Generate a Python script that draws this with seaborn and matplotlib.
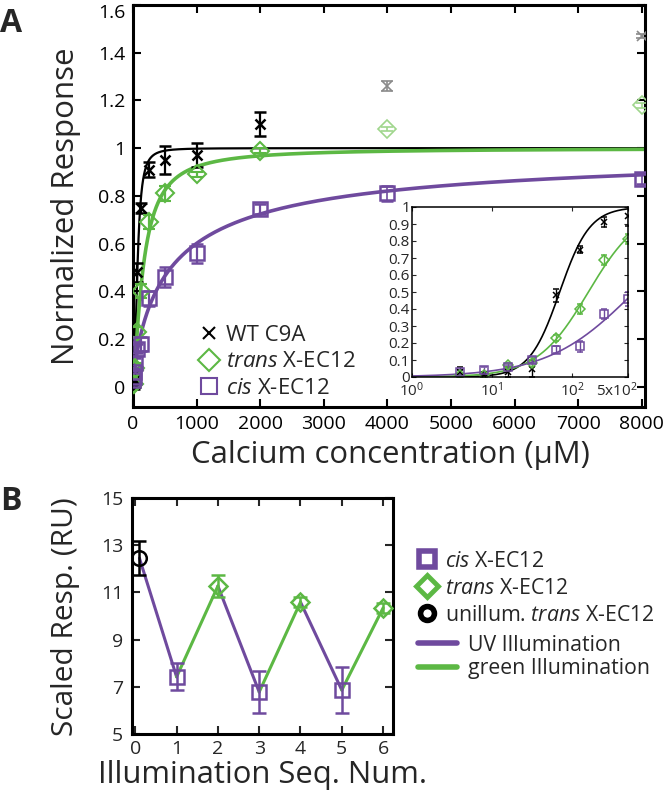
import numpy as np
import pandas as pd
import matplotlib

matplotlib.use("Agg")
import matplotlib.pyplot as plt
import matplotlib.transforms as mtransforms
import seaborn as sns
from matplotlib.lines import Line2D

PURPLE = "#6f4a9e"
GREEN = "#5cb844"
LIGHT_GREEN = "#9fd68c"
GRAY = "#8a8a8a"

# titration (µM) and normalized responses
conc = [4, 8, 16, 31.25, 62.5, 125, 250, 500, 1000, 2000, 4000, 8000]
wt_resp = [0.03, 0.01, 0.03, 0.05, 0.48, 0.75, 0.91, 0.95, 0.97, 1.10, 1.26, 1.47]
wt_err = [0.03, 0.02, 0.03, 0.05, 0.04, 0.02, 0.03, 0.06, 0.05, 0.05, 0.02, 0.01]
trans_resp = [0.01, 0.01, 0.07, 0.08, 0.23, 0.40, 0.69, 0.81, 0.89, 0.99, 1.08, 1.18]
trans_err = [0.01, 0.01, 0.01, 0.02, 0.02, 0.03, 0.03, 0.03, 0.01, 0.01, 0.01, 0.01]
cis_resp = [0.03, 0.04, 0.06, 0.10, 0.16, 0.18, 0.37, 0.46, 0.56, 0.745, 0.81, 0.87]
cis_err = [0.01, 0.02, 0.01, 0.02, 0.02, 0.03, 0.03, 0.04, 0.04, 0.02, 0.03, 0.02]
n_fit_points = 10  # last two WT / trans points are left out of the fits
n_inset = 8

# Hill-fit parameters
fit_names = ["wt", "trans", "cis"]
fit_max = [1.0, 1.0, 1.0]
fit_kd = [70, 160, 600]
fit_n = [2.3, 1.35, 0.8]

# panel B
seq_num = [0.1, 1, 2, 3, 4, 5, 6]
seq_resp = [12.45, 7.42, 11.27, 6.78, 10.59, 6.86, 10.34]
seq_err = [0.72, 0.57, 0.45, 0.87, 0.2, 0.97, 0.2]
seq_state = ["unillum", "cis", "trans", "cis", "trans", "cis", "trans"]

sns.set_theme(style="ticks")
plt.rcParams["font.family"] = ["Open Sans", "DejaVu Sans"]
plt.rcParams["mathtext.fontset"] = "custom"
plt.rcParams["mathtext.rm"] = "Open Sans"
plt.rcParams["mathtext.it"] = "Open Sans:italic"

fig = plt.figure(figsize=(6.66, 7.94), dpi=100)
ax = fig.add_axes([133 / 666, 1 - 407 / 794, 512 / 666, 402 / 794])
axi = fig.add_axes([412 / 666, 1 - 377 / 794, 216 / 666, 170 / 794])
axb = fig.add_axes([132 / 666, 1 - 734 / 794, 261 / 666, 236 / 794])

# fit curves
xs = np.concatenate([[0.0], np.geomspace(0.5, 8050, 800)])
rows = []
for name, m, kd, n in zip(fit_names, fit_max, fit_kd, fit_n):
    y = m * xs**n / (kd**n + xs**n)
    rows.append(pd.DataFrame({"conc": xs, "resp": y, "fit": name}))
fits = pd.concat(rows)
pal = {"wt": "black", "trans": GREEN, "cis": PURPLE}

sns.lineplot(data=fits, x="conc", y="resp", hue="fit", palette=pal, size="fit",
             sizes={"wt": 1.6, "trans": 2.6, "cis": 2.6}, estimator=None,
             sort=False, legend=False, ax=ax, zorder=2)
inset_fits = fits[fits["conc"] <= 500]
sns.lineplot(data=inset_fits, x="conc", y="resp", hue="fit", palette=pal,
             estimator=None, sort=False, legend=False, ax=axi, linewidth=1.2)

series = [
    (wt_resp, wt_err, "x", "black", GRAY, 7, 1.8),
    (trans_resp, trans_err, "D", GREEN, LIGHT_GREEN, 9, 1.5),
    (cis_resp, cis_err, "s", PURPLE, PURPLE, 9.5, 1.8),
]
for resp, err, mk, col, lcol, ms, mew in series:
    k = n_fit_points
    ax.errorbar(conc[:k], resp[:k], yerr=err[:k], fmt=mk, ms=ms, mew=mew, mfc="none",
                mec=col, ecolor=col, elinewidth=1.6, capsize=4, capthick=1.6, zorder=3)
    ax.errorbar(conc[k:], resp[k:], yerr=err[k:], fmt=mk, ms=ms, mew=1.2 if col != PURPLE else mew,
                mfc="none", mec=lcol, ecolor=lcol, elinewidth=1.2, capsize=4, capthick=1.2, zorder=3)
    axi.errorbar(conc[:n_inset], resp[:n_inset], yerr=err[:n_inset], fmt=mk, ms=ms * 0.55,
                 mew=1.1, mfc="none", mec=col, ecolor=col, elinewidth=1.0, capsize=2, capthick=1.0)

ax.set_xlim(0, 8050)
ax.set_ylim(-0.085, 1.6)
ax.set_xticks(range(0, 8001, 1000))
ax.set_yticks([0, 0.2, 0.4, 0.6, 0.8, 1.0, 1.2, 1.4, 1.6])
ax.set_yticklabels(["0", "0.2", "0.4", "0.6", "0.8", "1", "1.2", "1.4", "1.6"])
ax.set_xlabel("")
ax.set_ylabel("")
ax.tick_params(direction="in", length=6, width=1.5, labelsize=14, pad=5.5,
               top=True, right=True, colors="black")
# the top label sits a little below its tick in the original
down = mtransforms.ScaledTranslation(0, -0.06, fig.dpi_scale_trans)
top_lab = ax.get_yticklabels()[-1]
top_lab.set_transform(top_lab.get_transform() + down)
for s in ax.spines.values():
    s.set_linewidth(2.2)
    s.set_color("black")

axi.set_xscale("log")
axi.set_xlim(1, 500)
axi.set_ylim(0, 1)
axi.set_xticks([1, 10, 100, 500])
axi.set_xticklabels(["10$^{0}$", "10$^{1}$", "10$^{2}$", "5x10$^{2}$"])
axi.minorticks_off()
axi.set_yticks(np.arange(0, 1.01, 0.1))
axi.set_yticklabels(["0", "0.1", "0.2", "0.3", "0.4", "0.5", "0.6", "0.7", "0.8", "0.9", "1"])
axi.set_xlabel("")
axi.set_ylabel("")
axi.tick_params(direction="in", length=3, width=0.8, labelsize=11, pad=1.5,
                top=True, right=True)
axi.tick_params(axis="x", pad=3.5)
shift = mtransforms.ScaledTranslation(-0.11, 0, fig.dpi_scale_trans)
last = axi.get_xticklabels()[-1]
last.set_transform(last.get_transform() + shift)
for s in axi.spines.values():
    s.set_linewidth(1.1)
    s.set_color("black")

leg_a = [
    Line2D([], [], ls="none", marker="x", ms=9, mew=1.5, color="black"),
    Line2D([], [], ls="none", marker="D", ms=11, mew=1.5, mfc="none", mec=GREEN),
    Line2D([], [], ls="none", marker="s", ms=11, mew=1.5, mfc="none", mec=PURPLE),
]
fig.legend(leg_a, ["WT C9A", "$\\mathit{trans}$ X-EC12", "$\\mathit{cis}$ X-EC12"],
           loc="upper left", bbox_to_anchor=(189 / 666, 1 - 314 / 794), frameon=False,
           fontsize=16, handlelength=0.8, handletextpad=0.35, labelspacing=0.24, borderpad=0)

# panel B
seg_rows = []
for i in range(len(seq_num) - 1):
    light = "UV" if seq_state[i + 1] == "cis" else "green"
    seg_rows.append({"seg": i, "x": seq_num[i], "y": seq_resp[i], "light": light})
    seg_rows.append({"seg": i, "x": seq_num[i + 1], "y": seq_resp[i + 1], "light": light})
segs = pd.DataFrame(seg_rows)
sns.lineplot(data=segs, x="x", y="y", hue="light", units="seg", estimator=None, sort=False,
             palette={"UV": PURPLE, "green": GREEN}, linewidth=2.2, legend=False, ax=axb, zorder=2)

style = {"cis": ("s", PURPLE, 10), "trans": ("D", GREEN, 9.5), "unillum": ("o", "black", 10.5)}
for x, y, e, st in zip(seq_num, seq_resp, seq_err, seq_state):
    mk, col, ms = style[st]
    axb.errorbar([x], [y], yerr=[e], fmt=mk, ms=ms, mew=1.8, mfc="none", mec=col,
                 ecolor=col, elinewidth=1.8, capsize=5, capthick=1.8, zorder=3)

axb.set_xlim(-0.08, 6.24)
axb.set_ylim(5, 15)
axb.set_xticks(range(0, 7))
axb.set_yticks([5, 7, 9, 11, 13, 15])
axb.set_xlabel("")
axb.set_ylabel("")
axb.tick_params(direction="in", length=6, width=1.5, labelsize=14, pad=6.5,
                top=True, right=True)
axb.tick_params(axis="x", pad=4.5)
for s in axb.spines.values():
    s.set_linewidth(2.2)
    s.set_color("black")

leg_b_marks = [
    Line2D([], [], ls="none", marker="s", ms=11, mew=4, mfc="white", mec=PURPLE),
    Line2D([], [], ls="none", marker="D", ms=11, mew=3.5, mfc="white", mec=GREEN),
    Line2D([], [], ls="none", marker="o", ms=10, mew=4, mfc="white", mec="black"),
]
fig.legend(leg_b_marks, ["$\\mathit{cis}$ X-EC12", "$\\mathit{trans}$ X-EC12",
                         "unillum. $\\mathit{trans}$ X-EC12"],
           loc="upper left", bbox_to_anchor=(407 / 666, 1 - 540 / 794), frameon=False,
           fontsize=15.3, handlelength=0.9, handletextpad=0.4, labelspacing=0.28, borderpad=0)
leg_b_lines = [Line2D([], [], color=PURPLE, lw=4), Line2D([], [], color=GREEN, lw=4)]
fig.legend(leg_b_lines, ["UV Illumination", "green Illumination"],
           loc="upper left", bbox_to_anchor=(407 / 666, 1 - 624 / 794), frameon=False,
           fontsize=15.3, handlelength=1.85, handletextpad=0.5, labelspacing=0.12, borderpad=0)

# labels
fig.text(66 / 666, 1 - 206 / 794, "Normalized Response", rotation=90, ha="center",
         va="center", fontsize=22.5)
fig.text(390 / 666, 1 - 455 / 794, "Calcium concentration (µM)", ha="center",
         va="center", fontsize=22.4)
fig.text(66 / 666, 1 - 617 / 794, "Scaled Resp. (RU)", rotation=90, ha="center",
         va="center", fontsize=21.5)
fig.text(263 / 666, 1 - 775 / 794, "Illumination Seq. Num.", ha="center",
         va="center", fontsize=22.3)
fig.text(0, 1 - 24 / 794, "A", fontsize=23, fontweight="bold", va="center", ha="left")
fig.text(0, 1 - 502 / 794, "B", fontsize=23, fontweight="bold", va="center", ha="left")

fig.savefig("out.png", dpi=100)
plt.close(fig)
